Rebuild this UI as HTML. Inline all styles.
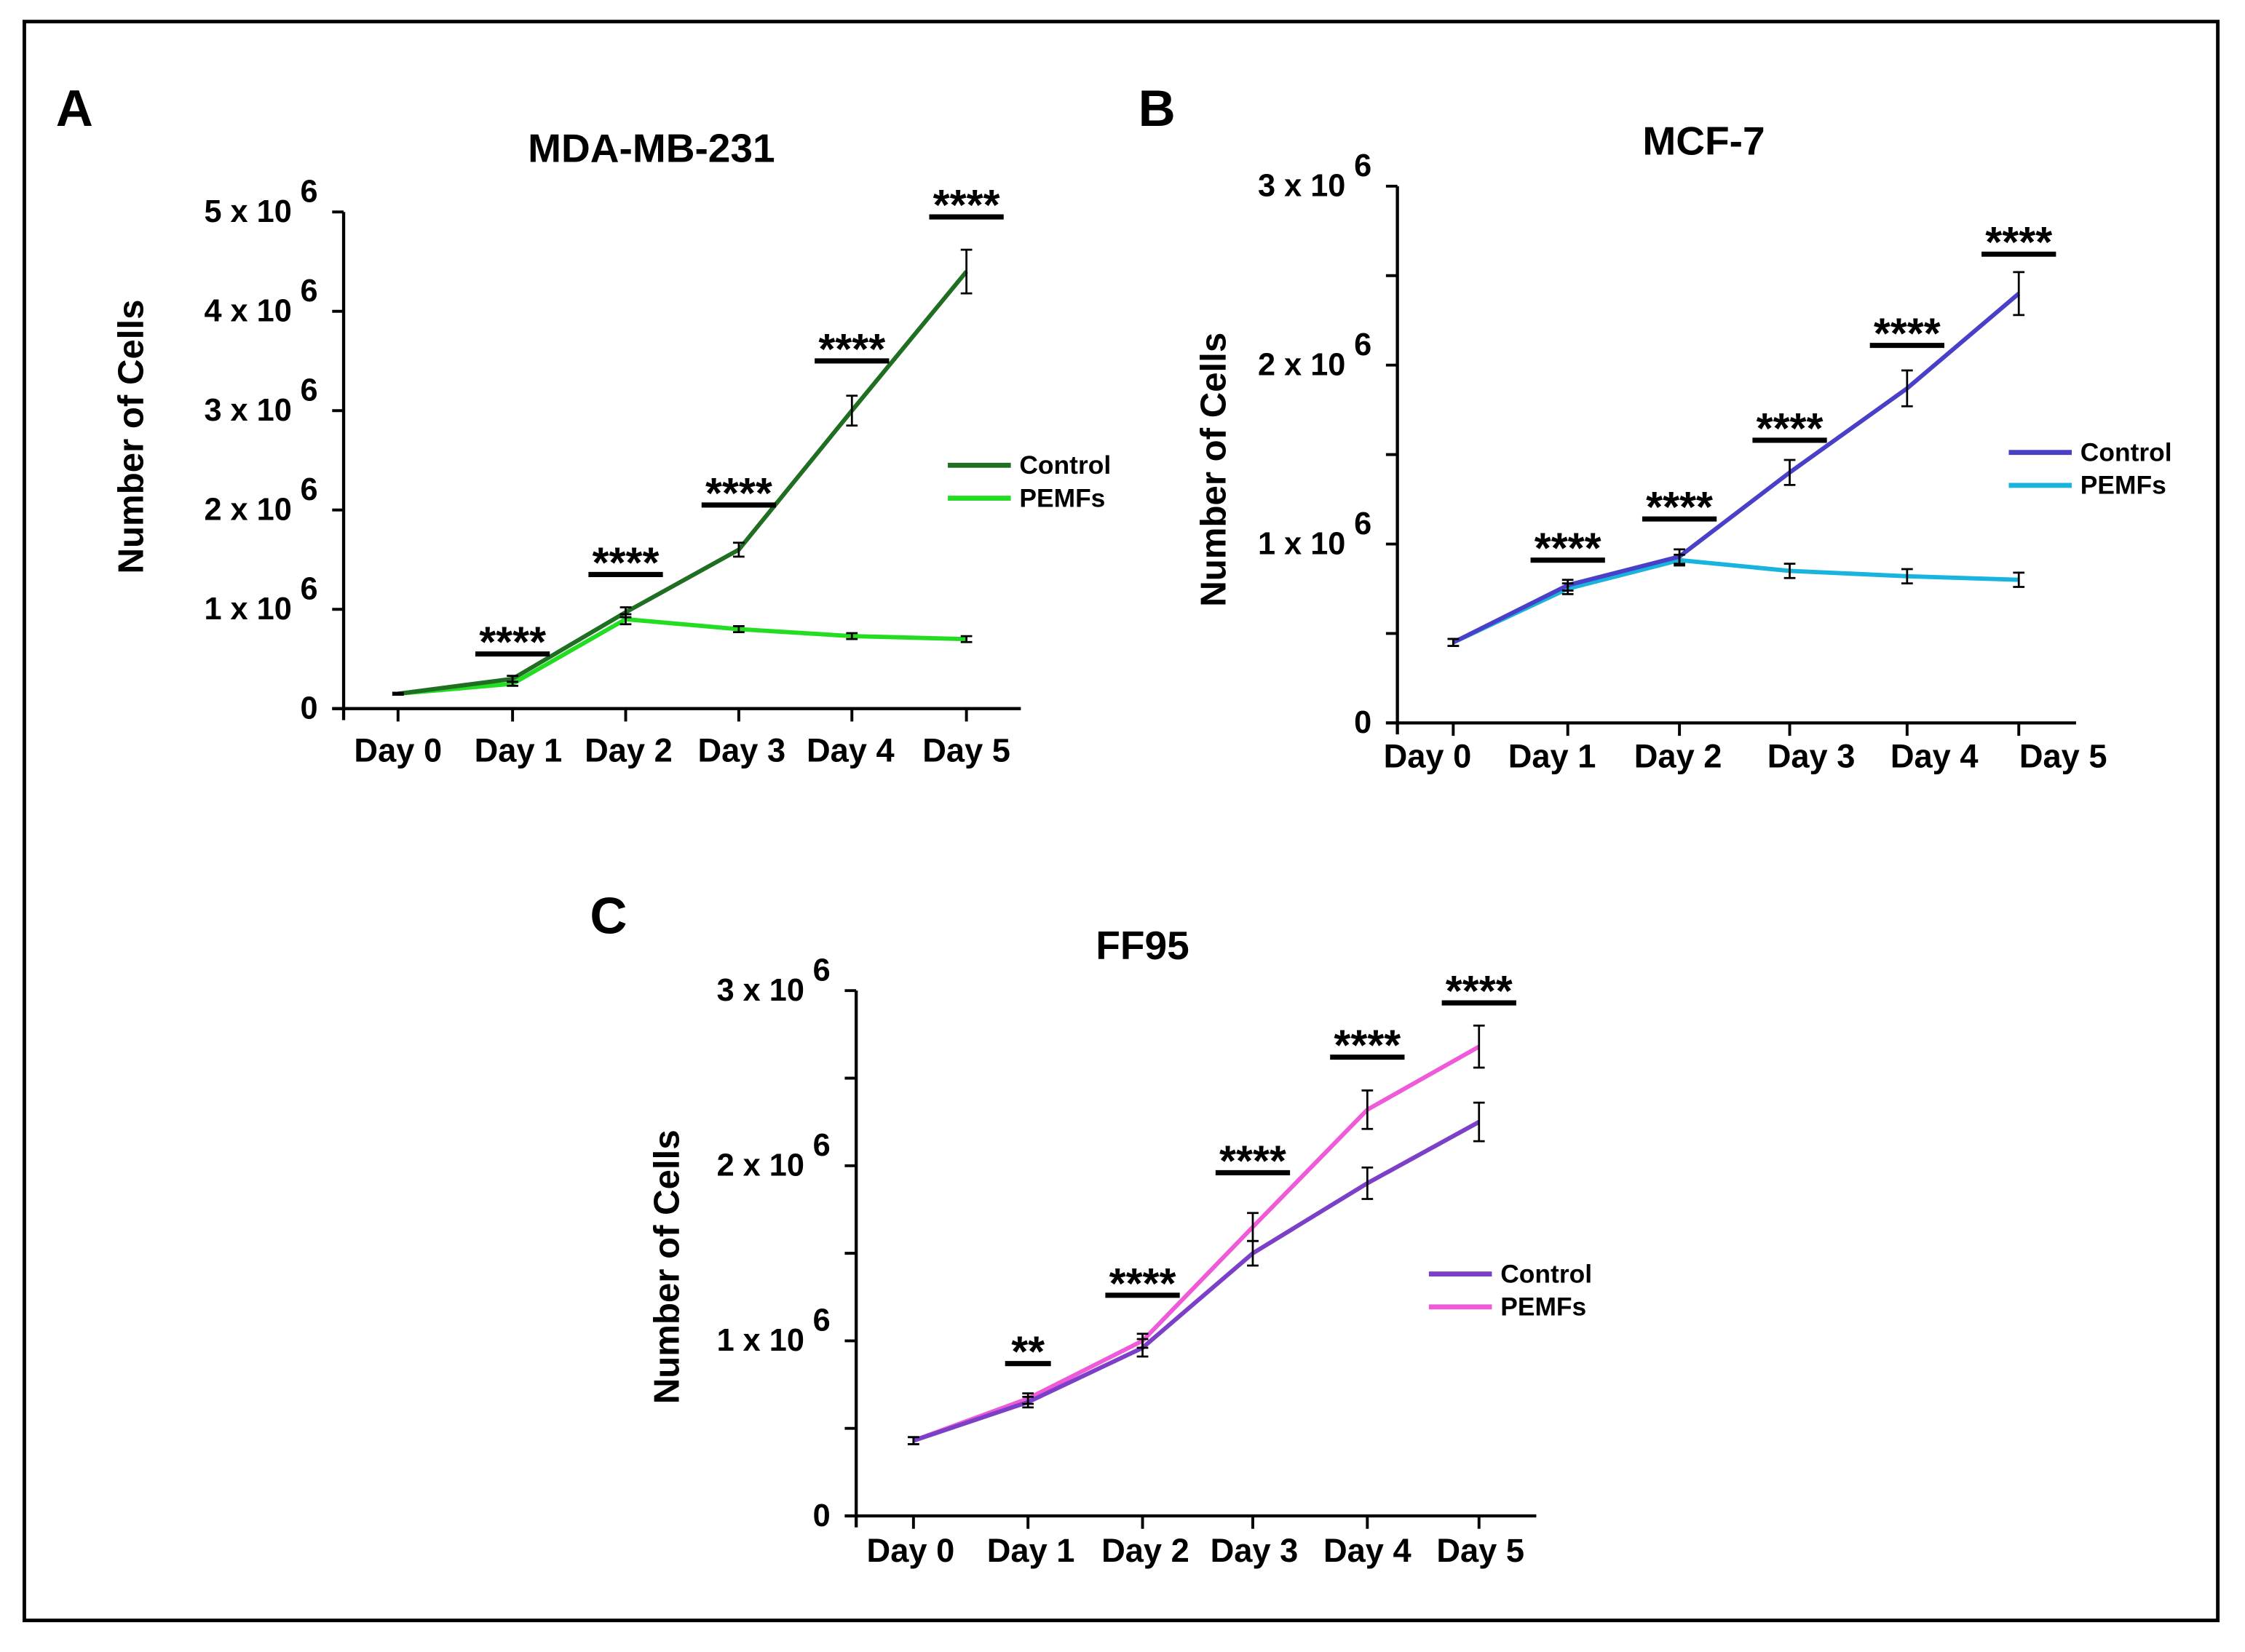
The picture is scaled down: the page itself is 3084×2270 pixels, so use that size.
<!DOCTYPE html>
<html><head><meta charset="utf-8"><style>
html,body{margin:0;padding:0;background:#fff;}
svg{display:block;}
.tk{font-family:"Liberation Sans Narrow","Liberation Sans",sans-serif;font-weight:bold;}
.ax{font-family:"Liberation Sans",sans-serif;font-weight:bold;font-size:25px;}
.ti{font-family:"Liberation Sans",sans-serif;font-weight:bold;font-size:28px;}
.lg{font-family:"Liberation Sans",sans-serif;font-weight:bold;}
.pl{font-family:"Liberation Sans",sans-serif;font-weight:bold;font-size:36px;}
</style></head><body>
<svg id="fig" width="3084" height="2270" viewBox="0 0 1568 1154" xmlns="http://www.w3.org/2000/svg">
<rect x="17" y="15" width="1532" height="1117" fill="none" stroke="#000" stroke-width="2.5"/>
</svg>
<script>
const days = ["Day 0","Day 1","Day 2","Day 3","Day 4","Day 5"];
// Panel A: MDA-MB-231 (x10^6)
const aControl = [0.15,0.30,0.97,1.60,3.00,4.40];
const aControlErr = [0.01,0.03,0.05,0.07,0.15,0.22];
const aPemf = [0.15,0.25,0.90,0.80,0.73,0.70];
const aPemfErr = [0.01,0.02,0.05,0.03,0.03,0.03];
const aSig = ["", "****","****","****","****","****"];
const aSigLevel = [0,0.55,1.35,2.05,3.5,4.95];
const aTicks = [0,1,2,3,4,5];
// Panel B: MCF-7
const bControl = [0.45,0.77,0.93,1.40,1.87,2.40];
const bControlErr = [0.02,0.03,0.04,0.07,0.10,0.12];
const bPemf = [0.45,0.75,0.91,0.85,0.82,0.80];
const bPemfErr = [0.02,0.03,0.03,0.04,0.04,0.04];
const bSig = ["", "****","****","****","****","****"];
const bSigLevel = [0,0.91,1.14,1.58,2.11,2.62];
const bTicks = [0,1,2,3];
// Panel C: FF95
const cControl = [0.43,0.65,0.96,1.50,1.90,2.25];
const cControlErr = [0.02,0.03,0.05,0.07,0.09,0.11];
const cPemf = [0.43,0.67,1.00,1.65,2.32,2.68];
const cPemfErr = [0.02,0.03,0.04,0.08,0.11,0.12];
const cSig = ["", "**","****","****","****","****"];
const cSigLevel = [0,0.87,1.26,1.96,2.62,2.93];
const cTicks = [0,1,2,3];

const NS="http://www.w3.org/2000/svg";
const svg=document.getElementById('fig');
function mk(tag,attrs,parent,txt){const e=document.createElementNS(NS,tag);for(const k in attrs)e.setAttribute(k,attrs[k]);if(txt!==undefined)e.textContent=txt;(parent||svg).appendChild(e);return e;}

function panel(cfg){
  const g=mk('g',{});
  
  
  const y=v=>cfg.y0+(cfg.yTop-cfg.y0)*v/cfg.max;
  const x=i=>cfg.xs[i];
  const L=mk('text',{x:cfg.letter[0],y:cfg.letter[1],class:'pl','text-anchor':'middle'},g,cfg.letterText);
  
  
  const T=mk('text',{x:cfg.title[0],y:cfg.title[1],class:'ti','text-anchor':'middle'},g,cfg.titleText);
  
  
  const ya=mk('line',{x1:cfg.ax,y1:cfg.yTop,x2:cfg.ax,y2:cfg.y0+8,stroke:'#000','stroke-width':2.2},g);
  
  
  const xa=mk('line',{x1:cfg.ax-8,y1:cfg.y0,x2:cfg.axEnd,y2:cfg.y0,stroke:'#000','stroke-width':2.2},g);
  
  
  for(let v=0;v<=cfg.max+1e-9;v+=cfg.minor){
    mk('line',{x1:cfg.ax-8,y1:y(v),x2:cfg.ax,y2:y(v),stroke:'#000','stroke-width':2},g);
  }
  cfg.ticks.forEach(v=>{
    const t=mk('text',{x:cfg.ax-18,y:y(v)+7,class:'tk','text-anchor':'end',style:'font-size:22px'},g);
    
    
    if(v===0){t.textContent='0';}
    else{t.textContent=v+' x 10';mk('tspan',{dx:6,dy:-14},t,'6');}
  });
  days.forEach((d,i)=>{
    mk('line',{x1:x(i),y1:cfg.y0,x2:x(i),y2:cfg.y0+9,stroke:'#000','stroke-width':2},g);
    const t=mk('text',{x:cfg.lx[i],y:cfg.y0+cfg.ldy,class:'tk','text-anchor':'middle',style:'font-size:23px'},g,d);
    
    
  });
  const yl=mk('text',{x:0,y:0,class:'ax','text-anchor':'middle',transform:`translate(${cfg.ylab[0]},${cfg.ylab[1]}) rotate(-90)`},g,'Number of Cells');
  
  
  [[cfg.pemf,cfg.pemfErr,cfg.cP,'pemfs'],[cfg.ctrl,cfg.ctrlErr,cfg.cC,'control']].forEach(([vals,errs,col,nm])=>{
    const p=mk('polyline',{points:vals.map((v,i)=>x(i)+','+y(v)).join(' '),fill:'none',stroke:col,'stroke-width':3,'stroke-linejoin':'round'},g);
    
    
  });
  [[cfg.pemf,cfg.pemfErr],[cfg.ctrl,cfg.ctrlErr]].forEach(([vals,errs])=>{
    vals.forEach((v,i)=>{
      const e=mk('path',{d:`M${x(i)},${y(v-errs[i])}V${y(v+errs[i])}M${x(i)-4},${y(v-errs[i])}H${x(i)+4}M${x(i)-4},${y(v+errs[i])}H${x(i)+4}`,stroke:'#000','stroke-width':1.4,fill:'none'},g);
      
      
    });
  });
  cfg.sig.forEach((s,i)=>{
    if(!s)return;
    const by=y(cfg.sigLevel[i]);
    const hw=s.length===2?16:26;
    const b=mk('line',{x1:x(i)-hw,y1:by,x2:x(i)+hw,y2:by,stroke:'#000','stroke-width':3.6},g);
    
    
    const t=mk('text',{x:x(i),y:by+2,class:'tk','text-anchor':'middle',style:'font-size:30px;letter-spacing:0px'},g,s);
    
    
  });
  [[cfg.cC,'Control',0],[cfg.cP,'PEMFs',1]].forEach(([col,lab,k])=>{
    const ly=cfg.leg[1]+k*23;
    const l=mk('line',{x1:cfg.leg[0],y1:ly,x2:cfg.leg[0]+44,y2:ly,stroke:col,'stroke-width':3.5},g);
    
    
    const t=mk('text',{x:cfg.leg[0]+50,y:ly+6,class:'lg',style:'font-size:18px'},g,lab);
    
    
  });
}

panel({name:'panel-a-mda-mb-231',letterText:'A',letter:[52,88],titleText:'MDA-MB-231',title:[455,113],
  ax:240,axEnd:713,y0:495,yTop:148,max:5,minor:1,ticks:aTicks,xs:[278,358,437,516,595,675],
  lx:[278,362,439,518,594,675],ldy:37,
  ylab:[100,305],ctrl:aControl,ctrlErr:aControlErr,pemf:aPemf,pemfErr:aPemfErr,sig:aSig,sigLevel:aSigLevel,
  cC:'#1f6e22',cP:'#22dd22',leg:[662,325]});
panel({name:'panel-b-mcf-7',letterText:'B',letter:[808,88],titleText:'MCF-7',title:[1190,108],
  ax:976,axEnd:1450,y0:505,yTop:130,max:3,minor:0.5,ticks:bTicks,xs:[1015,1095,1173,1250,1332,1410],
  lx:[997,1084,1172,1265,1351,1441],ldy:31,
  ylab:[856,328],ctrl:bControl,ctrlErr:bControlErr,pemf:bPemf,pemfErr:bPemfErr,sig:bSig,sigLevel:bSigLevel,
  cC:'#4a3fc8',cP:'#19b4dd',leg:[1403,316]});
panel({name:'panel-c-ff95',letterText:'C',letter:[425,652],titleText:'FF95',title:[798,670],
  ax:598,axEnd:1073,y0:1059,yTop:692,max:3,minor:0.5,ticks:cTicks,xs:[638,718,798,875,955,1033],
  lx:[636,720,800,876,955,1034],ldy:32,
  ylab:[474,885],ctrl:cControl,ctrlErr:cControlErr,pemf:cPemf,pemfErr:cPemfErr,sig:cSig,sigLevel:cSigLevel,
  cC:'#7b3fc8',cP:'#ee5ad8',leg:[998,890]});
</script>
</body></html>
